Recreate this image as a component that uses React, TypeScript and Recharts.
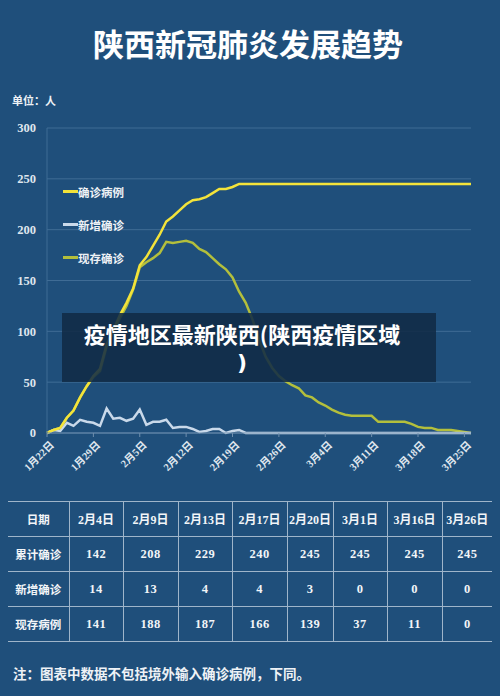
import React from "react";
import { LineChart, Line, XAxis, YAxis, CartesianGrid } from "recharts";

const dates = [
  "1月22日","1月23日","1月24日","1月25日","1月26日","1月27日","1月28日","1月29日","1月30日","1月31日",
  "2月1日","2月2日","2月3日","2月4日","2月5日","2月6日","2月7日","2月8日","2月9日","2月10日",
  "2月11日","2月12日","2月13日","2月14日","2月15日","2月16日","2月17日","2月18日","2月19日","2月20日",
  "2月21日","2月22日","2月23日","2月24日","2月25日","2月26日","2月27日","2月28日","2月29日",
  "3月1日","3月2日","3月3日","3月4日","3月5日","3月6日","3月7日","3月8日","3月9日","3月10日",
  "3月11日","3月12日","3月13日","3月14日","3月15日","3月16日","3月17日","3月18日","3月19日","3月20日",
  "3月21日","3月22日","3月23日","3月24日","3月25日","3月26日"
];

const cumulative = [
  0,3,5,15,22,35,46,56,63,87,
  101,116,128,142,165,173,184,195,208,213,
  219,225,229,230,232,236,240,240,242,245,
  245,245,245,245,245,245,245,245,245,
  245,245,245,245,245,245,245,245,245,245,
  245,245,245,245,245,245,245,245,245,245,
  245,245,245,245,245,245
];

const newCases = [
  0,3,2,10,7,13,11,10,7,24,
  14,15,12,14,23,8,11,11,13,5,
  6,6,4,1,2,4,4,0,2,3,
  0,0,0,0,0,0,0,0,0,
  0,0,0,0,0,0,0,0,0,0,
  0,0,0,0,0,0,0,0,0,0,
  0,0,0,0,0,0
];

const existing = [
  0,3,5,15,22,35,46,55,61,85,
  99,113,125,141,163,168,172,177,188,187,
  188,189,187,181,178,172,166,161,153,139,
  128,112,92,75,64,56,51,47,44,
  37,35,30,27,23,20,18,17,17,17,
  17,11,11,11,11,11,9,6,5,5,
  3,3,3,2,1,0
];

const yTicks = [0, 50, 100, 150, 200, 250, 300];

const seriesNames = ["确诊病例", "新增确诊", "现存确诊"];
const seriesColors = ["#f3e33a", "#c9d9ea", "#b3bf3c"];

const overlayLines = ["疫情地区最新陕西(陕西疫情区域", ")"];

const tableHeader = ["日期", "2月4日", "2月9日", "2月13日", "2月17日", "2月20日", "3月1日", "3月16日", "3月26日"];
const tableRows = [
  ["累计确诊", "142", "208", "229", "240", "245", "245", "245", "245"],
  ["新增确诊", "14", "13", "4", "4", "3", "0", "0", "0"],
  ["现存病例", "141", "188", "187", "166", "139", "37", "11", "0"],
];
const colWidths = [61, 54, 55, 54, 55, 46, 54, 55, 50];

const chartData = dates.map((d, i) => ({
  date: d,
  cumulative: cumulative[i],
  newCases: newCases[i],
  existing: existing[i],
}));

const BG = "#1f4f7b";
const SERIF = '"Liberation Serif", "DejaVu Serif", "Noto Sans CJK SC", serif';
const SANS = '"Noto Sans CJK SC", "Noto Sans", sans-serif';

const XTick = (props: any) => {
  const { x, y, payload } = props;
  return (
    <g transform={`translate(${x + 5},${y + 4})`}>
      <text
        x={0}
        y={0}
        dy="0.35em"
        textAnchor="end"
        transform="rotate(-45)"
        fill="#dfe6ee"
        fontSize={10.5}
        fontWeight={700}
        fontFamily={SERIF}
      >
        {payload.value}
      </text>
    </g>
  );
};

const LegendBox = () => (
  <div style={{ position: "absolute", left: 63, top: 175, display: "flex", flexDirection: "column" }}>
    {seriesNames.map((n, i) => (
      <div key={n} style={{ display: "flex", alignItems: "center", height: 33 }}>
        <div style={{ width: 15, height: 2.5, background: seriesColors[i] }} />
        <span
          style={{
            color: "#eef2f6",
            fontFamily: SANS,
            fontWeight: 700,
            fontSize: 11.5,
            lineHeight: "14px",
          }}
        >
          {n}
        </span>
      </div>
    ))}
  </div>
);

export default function App() {
  return (
    <div
      style={{
        position: "absolute",
        left: 0,
        top: 0,
        width: 500,
        height: 696,
        background: BG,
        overflow: "hidden",
      }}
    >
      <div
        style={{
          position: "absolute",
          left: 0,
          top: 24,
          width: 496,
          textAlign: "center",
          color: "#ffffff",
          fontFamily: SANS,
          fontWeight: 700,
          fontSize: 31,
          lineHeight: "38px",
        }}
      >
        陕西新冠肺炎发展趋势
      </div>
      <div
        style={{
          position: "absolute",
          left: 12,
          top: 92,
          color: "#eef2f6",
          fontFamily: SANS,
          fontWeight: 700,
          fontSize: 11,
          lineHeight: "16px",
        }}
      >
        单位：人
      </div>

      <div style={{ position: "absolute", left: 0, top: 100 }}>
        <LineChart
          width={500}
          height={380}
          data={chartData}
          margin={{ top: 28, right: 29, bottom: 0, left: 0 }}
        >
          <CartesianGrid vertical={false} stroke="#3f6c95" strokeWidth={1} />
          <XAxis
            dataKey="date"
            interval={6}
            height={47}
            tick={<XTick />}
            tickSize={4}
            tickMargin={2}
            axisLine={{ stroke: "#6f8fae" }}
            tickLine={{ stroke: "#6f8fae" }}
          />
          <YAxis
            width={47}
            domain={[0, 300]}
            ticks={yTicks}
            tickSize={0}
            tickMargin={11}
            axisLine={{ stroke: "#3f6c95" }}
            tickLine={false}
            tick={{ fill: "#dfe6ee", fontSize: 12.5, fontWeight: 700, fontFamily: SERIF }}
          />
          <Line
            type="linear"
            dataKey="existing"
            name={seriesNames[2]}
            stroke={seriesColors[2]}
            strokeWidth={2.5}
            dot={false}
            isAnimationActive={false}
          />
          <Line
            type="linear"
            dataKey="newCases"
            name={seriesNames[1]}
            stroke={seriesColors[1]}
            strokeWidth={2.5}
            dot={false}
            isAnimationActive={false}
          />
          <Line
            type="linear"
            dataKey="cumulative"
            name={seriesNames[0]}
            stroke={seriesColors[0]}
            strokeWidth={2.5}
            dot={false}
            isAnimationActive={false}
          />
        </LineChart>
      </div>

      <LegendBox />

      <div
        style={{
          position: "absolute",
          left: 62,
          top: 313,
          width: 374,
          height: 69,
          background: "rgba(17, 43, 70, 0.88)",
        }}
      />
      {overlayLines.map((t, i) => (
        <div
          key={i}
          style={{
            position: "absolute",
            left: 62,
            top: i === 0 ? 320 : 350,
            width: 360,
            height: 26,
            textAlign: "center",
            color: "#ffffff",
            fontFamily: i === 0 ? SANS : '"DejaVu Sans", "Noto Sans", sans-serif',
            fontWeight: 700,
            fontSize: 22,
            lineHeight: "26px",
          }}
        >
          {t}
        </div>
      ))}

      <table
        style={{
          position: "absolute",
          left: 8,
          top: 501,
          width: 484,
          borderCollapse: "collapse",
          tableLayout: "fixed",
        }}
      >
        <colgroup>
          {colWidths.map((w, i) => (
            <col key={i} style={{ width: w }} />
          ))}
        </colgroup>
        <tbody>
          {[tableHeader, ...tableRows].map((row, ri) => (
            <tr key={ri} style={{ height: 35 }}>
              {row.map((cell, ci) => {
                const isLabel = ci === 0 || ri === 0;
                return (
                  <td
                    key={ci}
                    style={{
                      padding: 0,
                      height: 34,
                      textAlign: "center",
                      verticalAlign: "middle",
                      color: "#f2f5f8",
                      fontFamily: ci === 0 ? SANS : SERIF,
                      fontWeight: 700,
                      fontSize: ci === 0 ? 11.5 : ri === 0 ? 12 : 12.5,
                      letterSpacing: isLabel ? 0 : 0.5,
                      borderTop: "1px solid #9fb5ca",
                      borderBottom: "1px solid #9fb5ca",
                      borderLeft: ci === 0 ? "none" : "1px solid #9fb5ca",
                      borderRight: "none",
                      whiteSpace: "nowrap",
                    }}
                  >
                    {cell}
                  </td>
                );
              })}
            </tr>
          ))}
        </tbody>
      </table>

      <div
        style={{
          position: "absolute",
          left: 13,
          top: 664,
          color: "#eef2f6",
          fontFamily: SANS,
          fontWeight: 700,
          fontSize: 13.5,
          lineHeight: "18px",
        }}
      >
        注：图表中数据不包括境外输入确诊病例，下同。
      </div>
    </div>
  );
}
